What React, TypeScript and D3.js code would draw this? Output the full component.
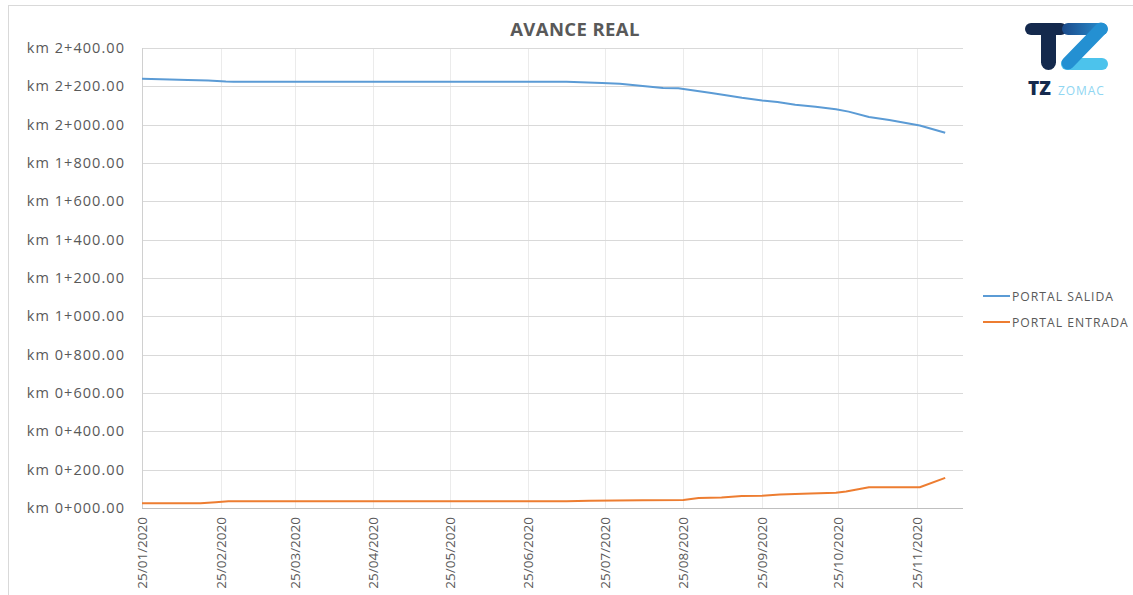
import React from "react";
import * as d3 from "d3";

const salidaDates = ["2020-01-25","2020-02-05","2020-02-12","2020-02-20","2020-02-27","2020-03-01","2020-07-10","2020-07-24","2020-07-31","2020-08-10","2020-08-17","2020-08-23","2020-09-05","2020-09-12","2020-09-17","2020-09-25","2020-10-01","2020-10-08","2020-10-16","2020-10-24","2020-10-29","2020-11-06","2020-11-14","2020-11-26","2020-12-06"];
const salidaValues = [2240,2236,2233,2231,2225,2224,2224,2218,2213,2200,2191,2190,2165,2151,2140,2126,2118,2104,2093,2080,2068,2040,2024,1996,1958];

const entradaDates = ["2020-01-25","2020-02-17","2020-02-23","2020-02-28","2020-07-10","2020-07-19","2020-08-09","2020-08-25","2020-08-31","2020-09-09","2020-09-17","2020-09-25","2020-10-02","2020-10-14","2020-10-24","2020-10-28","2020-11-06","2020-11-26","2020-12-06"];
const entradaValues = [25,25,30,35,35,38,40,42,52,55,62,64,70,76,80,86,108,108,157];

const xTickDates = ["2020-01-25","2020-02-25","2020-03-25","2020-04-25","2020-05-25","2020-06-25","2020-07-25","2020-08-25","2020-09-25","2020-10-25","2020-11-25"];
const yTicks = [0,200,400,600,800,1000,1200,1400,1600,1800,2000,2200,2400];

const seriesNames = ["PORTAL SALIDA","PORTAL ENTRADA"];
const seriesColors = ["#5b9bd5","#ed7d31"];

const parse = d3.timeParse("%Y-%m-%d");
const fmtDate = d3.timeFormat("%d/%m/%Y");
const fmtKm = (v: number) => `km ${Math.floor(v / 1000)}+${String(v % 1000).padStart(3, "0")}.00`;

export default function App() {
  const W = 1133, H = 595;
  const x = d3.scaleTime().domain([parse("2020-01-25")!, parse("2020-12-13")!]).range([142, 963]);
  const y = d3.scaleLinear().domain([0, 2400]).range([508, 48]);
  const line = d3.line<[Date, number]>().x(d => x(d[0])).y(d => y(d[1]));
  const salida: [Date, number][] = salidaDates.map((d, i) => [parse(d)!, salidaValues[i]]);
  const entrada: [Date, number][] = entradaDates.map((d, i) => [parse(d)!, entradaValues[i]]);
  const series = [salida, entrada];
  const font = "'Open Sans', sans-serif";
  const txt = "#595959";
  return (
    <div style={{ position: "absolute", left: 0, top: 0 }}>
      <svg width={W} height={H} style={{ display: "block", background: "#fff" }}>
        {/* chart border */}
        <line x1={8} x2={W} y1={5.5} y2={5.5} stroke="#d9d9d9" />
        <line x1={8.5} x2={8.5} y1={5} y2={H} stroke="#d9d9d9" />
        {/* title */}
        <text x={575} y={36} textAnchor="middle" fontFamily={font} fontWeight={700} fontSize={18.5} letterSpacing={0.4} fill={txt}>AVANCE REAL</text>
        {/* vertical gridlines */}
        {xTickDates.map(d => (
          <line key={d} x1={Math.round(x(parse(d)!)) + 0.5} x2={Math.round(x(parse(d)!)) + 0.5} y1={48} y2={508} stroke="#ebebeb" />
        ))}
        {/* horizontal gridlines */}
        {yTicks.map(t => (
          <line key={t} x1={142} x2={963} y1={Math.round(y(t)) + 0.5} y2={Math.round(y(t)) + 0.5} stroke={t === 0 ? "#bfbfbf" : "#d9d9d9"} />
        ))}
        <line x1={142.5} x2={142.5} y1={48} y2={508} stroke="#d0d0d0" />
        {/* y labels */}
        {yTicks.map(t => (
          <text key={t} x={125} y={y(t) + 5} textAnchor="end" fontFamily={font} fontSize={14.5} letterSpacing={1.05} fill={txt}>{fmtKm(t)}</text>
        ))}
        {/* x labels */}
        {xTickDates.map(d => {
          const px = x(parse(d)!);
          return (
            <text key={d} transform={`translate(${px + 5},517) rotate(-90)`} textAnchor="end" fontFamily={font} fontSize={13.5} fill={txt}>{fmtDate(parse(d)!)}</text>
          );
        })}
        {/* lines */}
        {series.map((s, i) => (
          <path key={i} d={line(s)!} fill="none" stroke={seriesColors[i]} strokeWidth={2} strokeLinejoin="round" />
        ))}
        {/* legend */}
        {seriesNames.map((n, i) => (
          <g key={n} transform={`translate(983,${296 + i * 26})`}>
            <line x1={0} x2={27} y1={0} y2={0} stroke={seriesColors[i]} strokeWidth={2} />
            <text x={29} y={4.5} fontFamily={font} fontSize={12.2} letterSpacing={1.0} fill={txt}>{n}</text>
          </g>
        ))}
        {/* logo */}
        <g>
          <defs>
            <linearGradient id="zg" x1="0" y1="0" x2="1" y2="0">
              <stop offset="0" stopColor="#1b4a8a" />
              <stop offset="1" stopColor="#2a95d6" />
            </linearGradient>
          </defs>
          <rect x={1025} y={23} width={42} height={12} rx={6} fill="#14294d" />
          <rect x={1041} y={23} width={15} height={47} rx={7.5} fill="#14294d" />
          <rect x={1062} y={23} width={46} height={12} rx={6} fill="url(#zg)" />
          <rect x={1061} y={58} width={47} height={12} rx={6} fill="#4cc3ec" />
          <line x1={1101} x2={1068} y1={29} y2={63} stroke="#2490d2" strokeWidth={13} strokeLinecap="round" />
          <text x={1028} y={95} fontFamily={font} fontWeight={800} fontSize={19} fill="#14294d">TZ</text>
          <text x={1058} y={95} fontFamily={font} fontSize={12} letterSpacing={0.9} fill="#8fd6f2">ZOMAC</text>
        </g>
      </svg>
    </div>
  );
}
